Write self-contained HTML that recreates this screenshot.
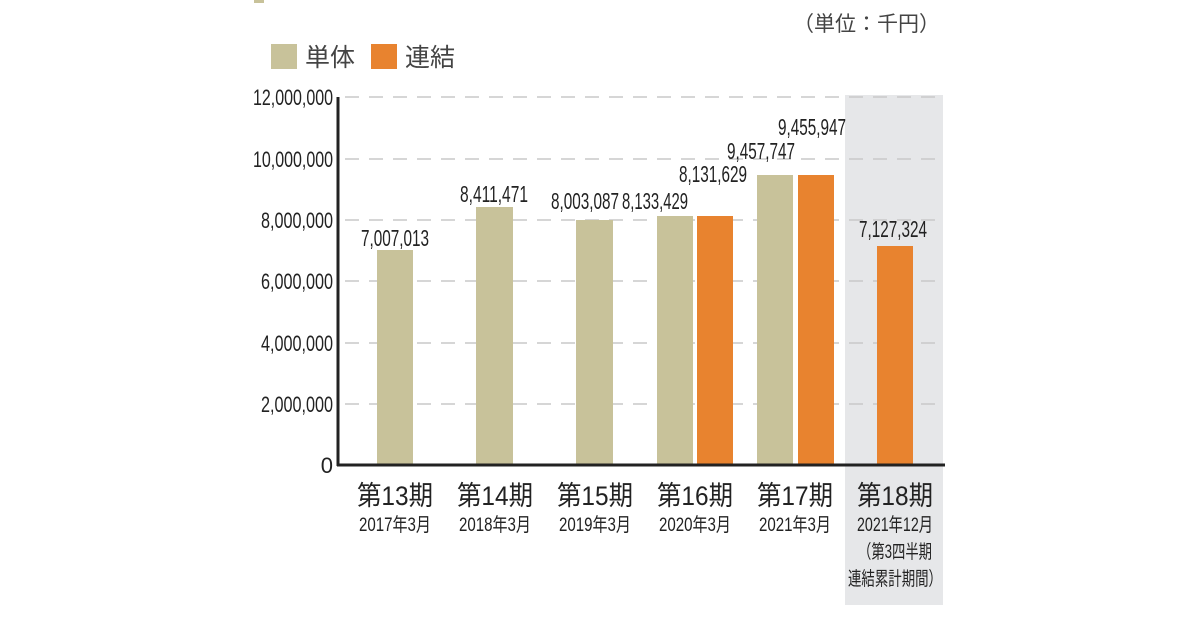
<!DOCTYPE html>
<html><head><meta charset="utf-8"><style>body{margin:0;background:#fff}svg{display:block}</style></head><body>
<svg width="1200" height="630" xmlns="http://www.w3.org/2000/svg" font-family="'Liberation Sans','Noto Sans CJK JP',sans-serif" fill="#222">
<rect x="254" y="0" width="10" height="3" fill="#c8c29a"/>
<rect x="845" y="95" width="98" height="510" fill="#e6e7e9"/>
<g stroke="#c9c9c9" stroke-width="1.5" stroke-dasharray="14,10">
<line x1="345" y1="97" x2="943" y2="97"/><line x1="345" y1="159" x2="943" y2="159"/><line x1="345" y1="220" x2="943" y2="220"/><line x1="345" y1="281" x2="943" y2="281"/><line x1="345" y1="343" x2="943" y2="343"/><line x1="345" y1="404" x2="943" y2="404"/>
</g>
<g fill="#c8c29a">
<rect x="377" y="250" width="36" height="215"/><rect x="476" y="207" width="37" height="258"/><rect x="576" y="220" width="37" height="245"/><rect x="657" y="216" width="36" height="249"/><rect x="757" y="175" width="36" height="290"/>
</g>
<g fill="#e8832f">
<rect x="697" y="216" width="36" height="249"/><rect x="798" y="175" width="36" height="290"/><rect x="877" y="246" width="36" height="219"/>
</g>
<line x1="338" y1="97" x2="338" y2="466" stroke="#222" stroke-width="3"/>
<line x1="337" y1="465" x2="945" y2="465" stroke="#222" stroke-width="3"/>
<rect x="271" y="44" width="26" height="25" fill="#c8c29a"/>
<text x="305" y="66" font-size="25" fill="#444">単体</text>
<rect x="371" y="44" width="26" height="25" fill="#e8832f"/>
<text x="405" y="66" font-size="25" fill="#444">連結</text>
<text x="940" y="31" font-size="21" text-anchor="end" fill="#444">（単位：千円）</text>
<g font-size="22" text-anchor="end">
<text x="333" y="105" textLength="80" lengthAdjust="spacingAndGlyphs">12,000,000</text>
<text x="333" y="167" textLength="80" lengthAdjust="spacingAndGlyphs">10,000,000</text>
<text x="333" y="228" textLength="72" lengthAdjust="spacingAndGlyphs">8,000,000</text>
<text x="333" y="289" textLength="72" lengthAdjust="spacingAndGlyphs">6,000,000</text>
<text x="333" y="351" textLength="72" lengthAdjust="spacingAndGlyphs">4,000,000</text>
<text x="333" y="412" textLength="72" lengthAdjust="spacingAndGlyphs">2,000,000</text>
<text x="333" y="473">0</text>
</g>
<g font-size="23">
<text x="361" y="246" textLength="68" lengthAdjust="spacingAndGlyphs">7,007,013</text>
<text x="460" y="202" textLength="68" lengthAdjust="spacingAndGlyphs">8,411,471</text>
<text x="551" y="209" textLength="68" lengthAdjust="spacingAndGlyphs">8,003,087</text>
<text x="622" y="209" textLength="66" lengthAdjust="spacingAndGlyphs">8,133,429</text>
<text x="679" y="182" textLength="68" lengthAdjust="spacingAndGlyphs">8,131,629</text>
<text x="727" y="159" textLength="68" lengthAdjust="spacingAndGlyphs">9,457,747</text>
<text x="778" y="135" textLength="68" lengthAdjust="spacingAndGlyphs">9,455,947</text>
<text x="859" y="237" textLength="68" lengthAdjust="spacingAndGlyphs">7,127,324</text>
</g>
<g text-anchor="middle">
<g font-size="27">
<text x="395" y="505" textLength="76" lengthAdjust="spacingAndGlyphs">第13期</text>
<text x="495" y="505" textLength="76" lengthAdjust="spacingAndGlyphs">第14期</text>
<text x="595" y="505" textLength="76" lengthAdjust="spacingAndGlyphs">第15期</text>
<text x="695" y="505" textLength="76" lengthAdjust="spacingAndGlyphs">第16期</text>
<text x="795" y="505" textLength="76" lengthAdjust="spacingAndGlyphs">第17期</text>
<text x="895" y="505" textLength="76" lengthAdjust="spacingAndGlyphs">第18期</text>
</g>
<g font-size="19">
<text x="395" y="531" textLength="72" lengthAdjust="spacingAndGlyphs">2017年3月</text>
<text x="495" y="531" textLength="72" lengthAdjust="spacingAndGlyphs">2018年3月</text>
<text x="595" y="531" textLength="72" lengthAdjust="spacingAndGlyphs">2019年3月</text>
<text x="695" y="531" textLength="72" lengthAdjust="spacingAndGlyphs">2020年3月</text>
<text x="795" y="531" textLength="72" lengthAdjust="spacingAndGlyphs">2021年3月</text>
<text x="895" y="531" textLength="76" lengthAdjust="spacingAndGlyphs">2021年12月</text>
<text x="895" y="558" textLength="74" lengthAdjust="spacingAndGlyphs">（第3四半期</text>
<text x="895" y="585" textLength="94" lengthAdjust="spacingAndGlyphs">連結累計期間）</text>
</g>
</g>
</svg>
</body></html>
